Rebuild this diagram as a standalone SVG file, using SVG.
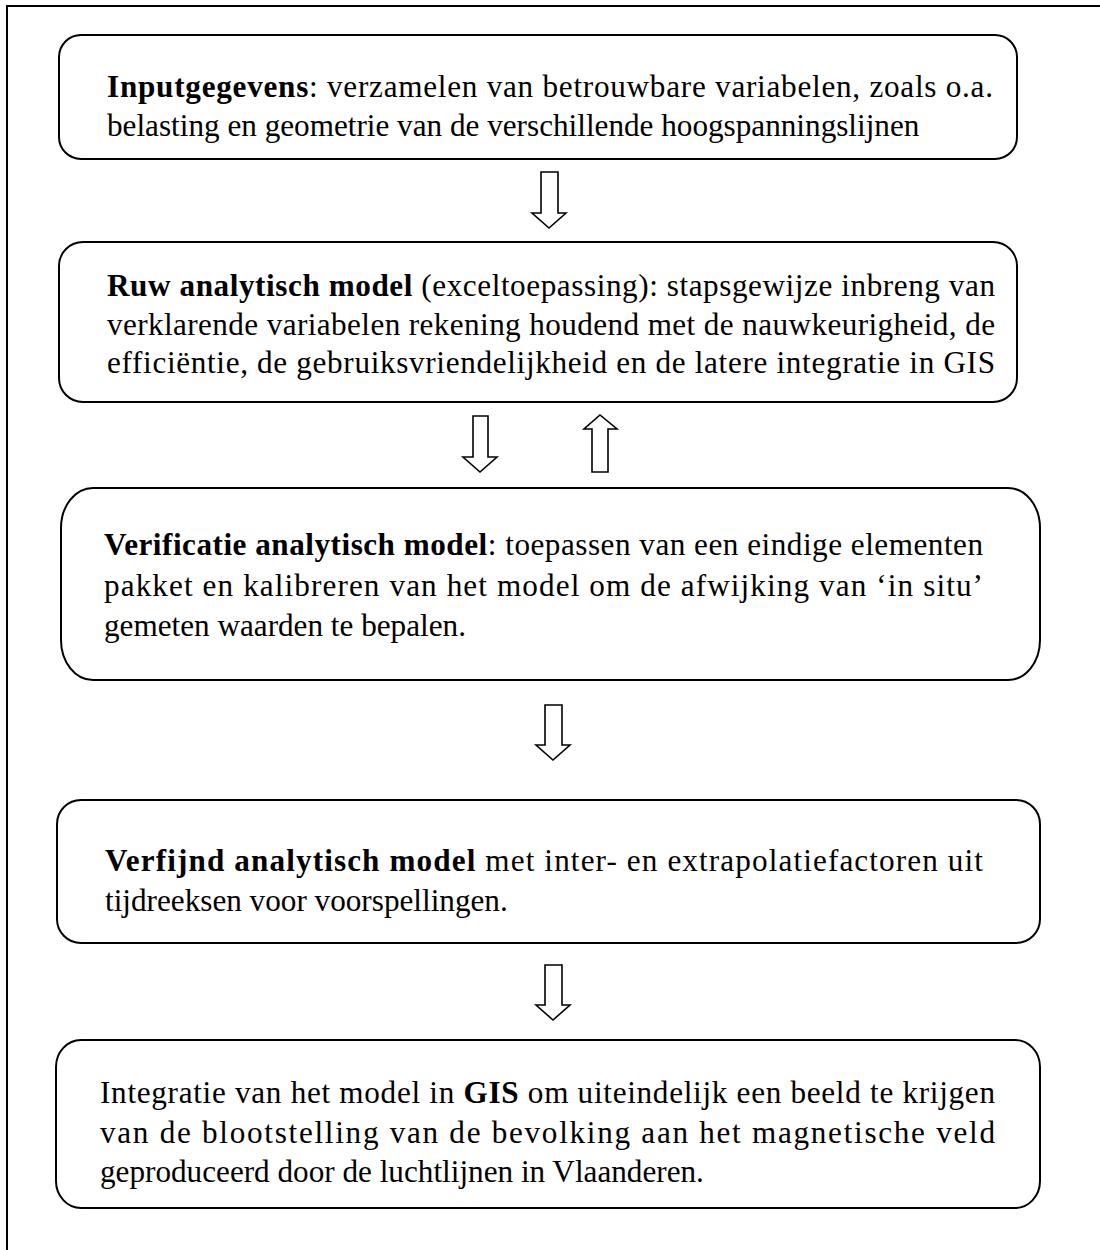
<svg xmlns="http://www.w3.org/2000/svg" width="1100" height="1250" viewBox="0 0 1100 1250">
<style>
.box{fill:#fff;stroke:#000;stroke-width:2}
.frame{fill:#fff;stroke:#000;stroke-width:2}
.arr{fill:#fff;stroke:#000;stroke-width:1.6;stroke-linejoin:miter}
text{font-family:"Liberation Serif","Times New Roman",serif;font-size:31.2px;fill:#000}
.b{font-weight:bold}
</style>
<rect class="frame" x="7" y="6" width="1110" height="1270"/>
<g id="connectors">
<polygon class="arr" points="541,172 558,172 558,213 566,213 549,228 532,213 541,213"/>
<polygon class="arr" points="473,416 488,416 488,457 497,457 480,472 463,457 473,457"/>
<polygon class="arr" points="592,472 608,472 608,429 617,429 600,415 584,429 592,429"/>
<polygon class="arr" points="545,705 562,705 562,745 570,745 553,760 536,745 545,745"/>
<polygon class="arr" points="545,965 562,965 562,1005 570,1005 553,1020 536,1005 545,1005"/>
</g>
<g id="n1">
<rect class="box" x="59" y="35" width="958" height="124" rx="22" ry="22"/>
<text x="107" y="97" textLength="886" lengthAdjust="spacing"><tspan class="b">Inputgegevens</tspan>: verzamelen van betrouwbare variabelen, zoals o.a.</text>
<text x="107" y="136">belasting en geometrie van de verschillende hoogspanningslijnen</text>
</g>
<g id="n2">
<rect class="box" x="59" y="242" width="958" height="160" rx="24" ry="24"/>
<text x="107" y="296" textLength="888" lengthAdjust="spacing"><tspan class="b">Ruw analytisch model</tspan> (exceltoepassing): stapsgewijze inbreng van</text>
<text x="107" y="335" textLength="888" lengthAdjust="spacing">verklarende variabelen rekening houdend met de nauwkeurigheid, de</text>
<text x="107" y="373" textLength="888" lengthAdjust="spacing">efficiëntie, de gebruiksvriendelijkheid en de latere integratie in GIS</text>
</g>
<g id="n3">
<rect class="box" x="61" y="488" width="979" height="192" rx="32" ry="40"/>
<text x="104" y="555" textLength="879" lengthAdjust="spacing"><tspan class="b">Verificatie analytisch model</tspan>: toepassen van een eindige elementen</text>
<text x="104" y="596" textLength="879" lengthAdjust="spacing">pakket en kalibreren van het model om de afwijking van ‘in situ’</text>
<text x="104" y="636">gemeten waarden te bepalen.</text>
</g>
<g id="n4">
<rect class="box" x="57" y="800" width="983" height="143" rx="24" ry="24"/>
<text x="105" y="871" textLength="878" lengthAdjust="spacing"><tspan class="b">Verfijnd analytisch model</tspan> met inter- en extrapolatiefactoren uit</text>
<text x="105" y="911">tijdreeksen voor voorspellingen.</text>
</g>
<g id="n5">
<rect class="box" x="56" y="1040" width="984" height="168" rx="25" ry="27"/>
<text x="100" y="1103" textLength="895" lengthAdjust="spacing">Integratie van het model in <tspan class="b">GIS</tspan> om uiteindelijk een beeld te krijgen</text>
<text x="100" y="1143" textLength="895" lengthAdjust="spacing">van de blootstelling van de bevolking aan het magnetische veld</text>
<text x="100" y="1182">geproduceerd door de luchtlijnen in Vlaanderen.</text>
</g>
</svg>
